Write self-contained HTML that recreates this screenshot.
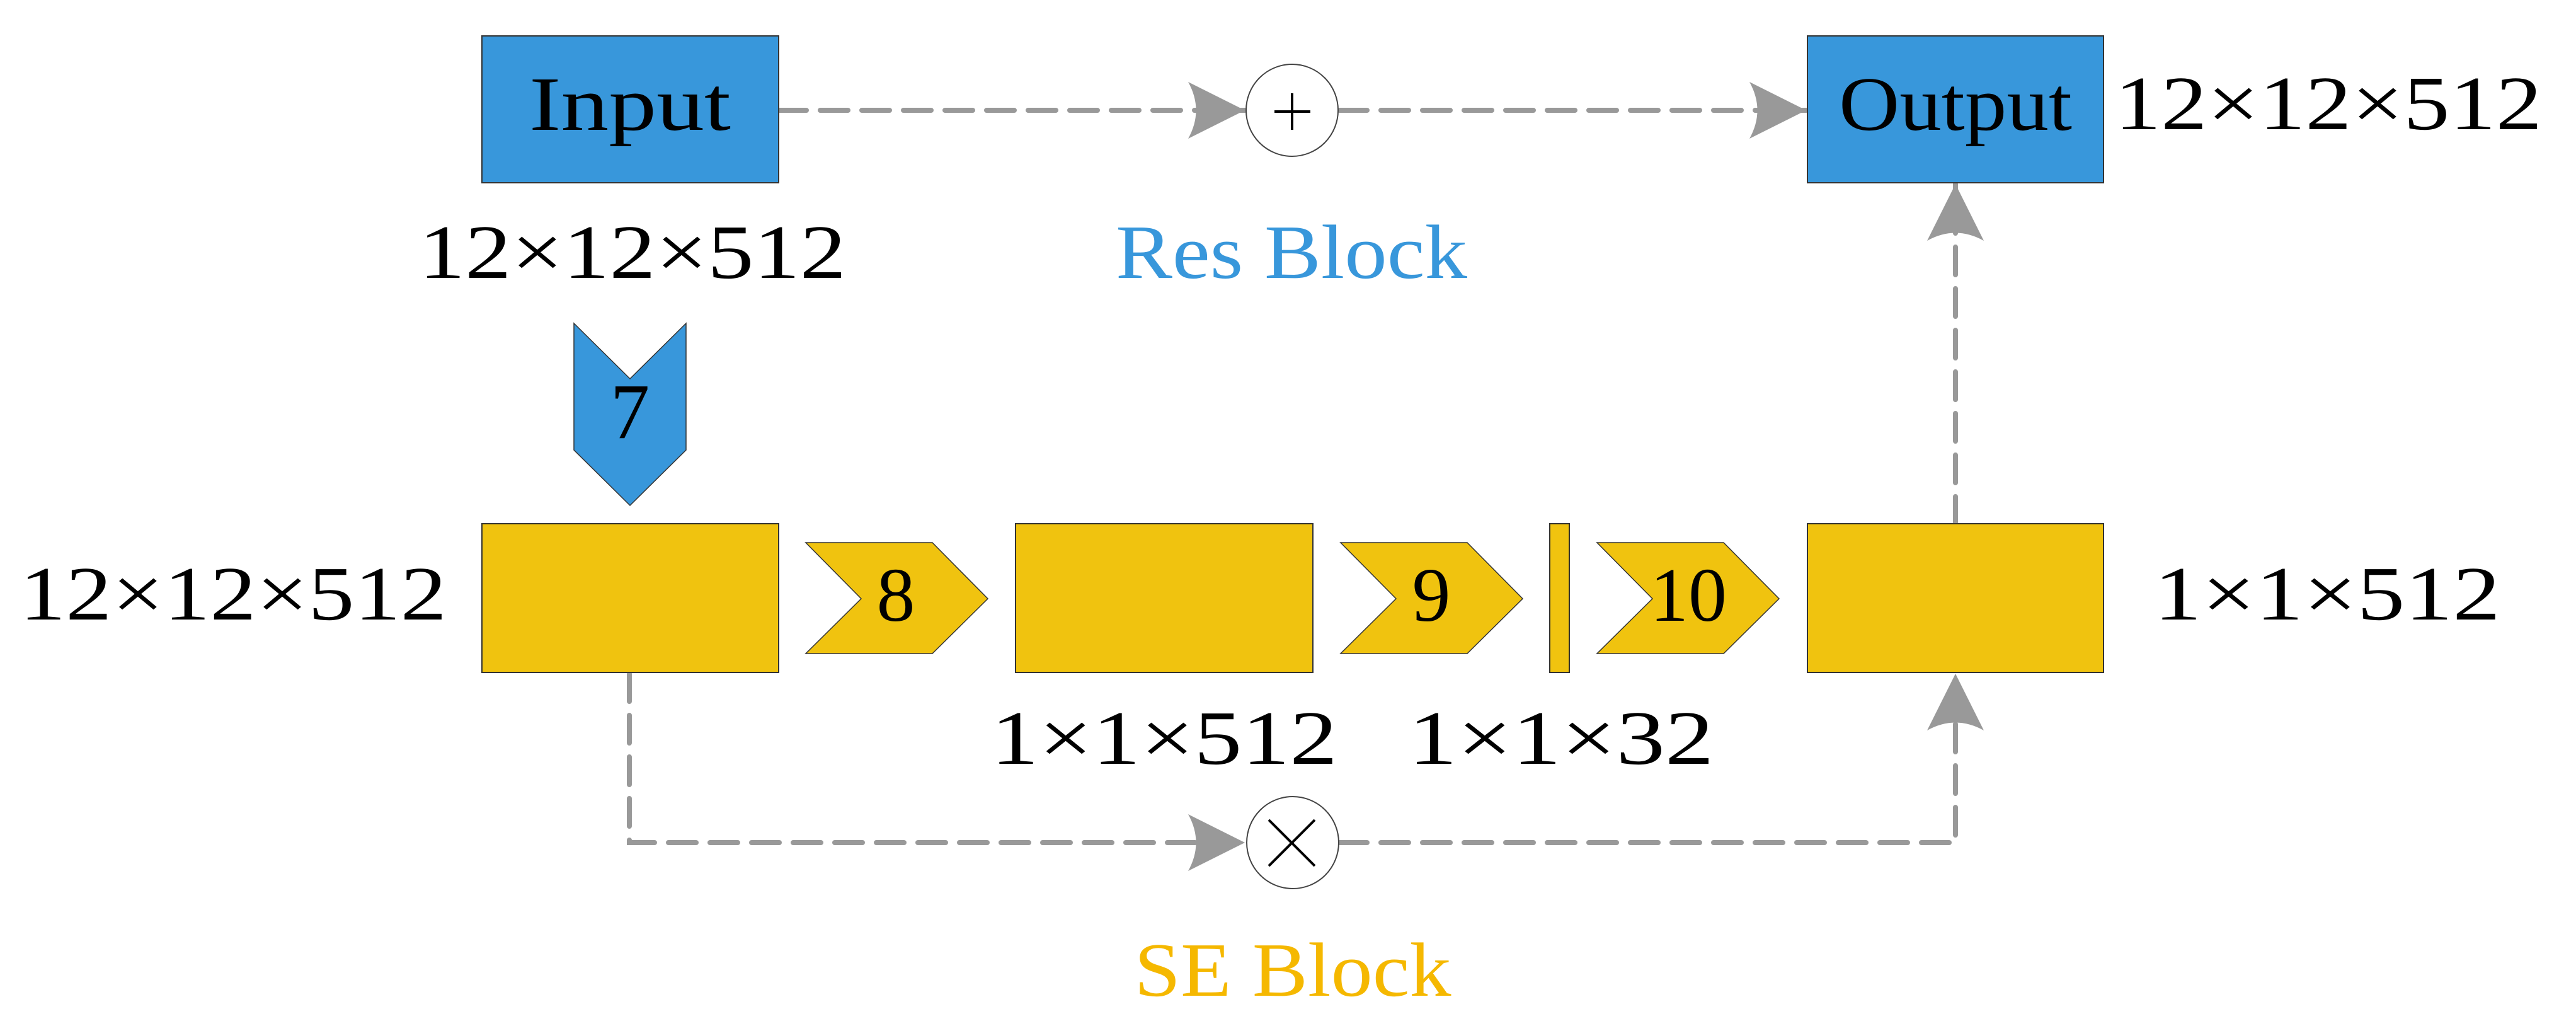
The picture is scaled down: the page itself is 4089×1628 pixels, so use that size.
<!DOCTYPE html>
<html><head><meta charset="utf-8"><style>html,body{margin:0;padding:0;background:#fff}svg{display:block}</style></head>
<body>
<svg width="4089" height="1628" viewBox="0 0 4089 1628" xmlns="http://www.w3.org/2000/svg" font-family="'Liberation Serif', serif">
<defs>
<marker id="ah" viewBox="0 0 90 90" refX="90" refY="45" markerWidth="90" markerHeight="90" markerUnits="userSpaceOnUse" orient="auto">
<path d="M0,0 L90,45 L0,90 Q25,45 0,0 Z" fill="#999"/>
</marker>
</defs>
<g stroke="#999" stroke-width="8" fill="none" stroke-dasharray="44,22" stroke-linecap="round">
<path d="M1236,175 L1976,175" marker-end="url(#ah)"/>
<path d="M2126,175 L2867,175" marker-end="url(#ah)"/>
<path d="M3104,832 L3104,292" marker-end="url(#ah)"/>
<path d="M999,1069 L999,1337 L1976,1337" marker-end="url(#ah)"/>
<path d="M2126,1337 L3104,1337 L3104,1069" marker-end="url(#ah)"/>
</g>
<g stroke="#333" stroke-width="2">
<rect x="765" y="57" width="471" height="233" fill="#3897db"/>
<rect x="2869" y="57" width="470" height="233" fill="#3897db"/>
<rect x="765" y="831" width="471" height="236" fill="#f0c30f"/>
<rect x="1612" y="831" width="472" height="236" fill="#f0c30f"/>
<rect x="2460" y="831" width="31" height="236" fill="#f0c30f"/>
<rect x="2869" y="831" width="470" height="236" fill="#f0c30f"/>
<path d="M911,513 L1000,601 L1089,513 L1089,714 L1000,802 L911,714 Z" fill="#3897db" stroke-width="1.5"/>
<path d="M1279,861 L1480,861 L1568,950 L1480,1037 L1279,1037 L1367,950 Z" fill="#f0c30f" stroke-width="1.5"/>
<path d="M2128,861 L2329,861 L2417,950 L2329,1037 L2128,1037 L2216,950 Z" fill="#f0c30f" stroke-width="1.5"/>
<path d="M2535,861 L2736,861 L2824,950 L2736,1037 L2535,1037 L2623,950 Z" fill="#f0c30f" stroke-width="1.5"/>
</g>
<circle cx="2051" cy="175" r="73" fill="#fff" stroke="#444" stroke-width="2"/>
<circle cx="2052" cy="1337" r="73" fill="#fff" stroke="#444" stroke-width="2"/>
<path d="M2023,177 L2080,177 M2051,148 L2051,206" stroke="#000" stroke-width="4"/>
<path d="M2014,1301 L2087,1374 M2087,1301 L2014,1374" stroke="#000" stroke-width="4"/>
<g font-size="122" fill="#000" text-anchor="middle">
<text x="1000" y="206" textLength="320" lengthAdjust="spacingAndGlyphs">Input</text>
<text x="3104" y="206" textLength="370" lengthAdjust="spacingAndGlyphs">Output</text>
<text x="1004" y="441" textLength="678" lengthAdjust="spacingAndGlyphs">12×12×512</text>
<text x="3696" y="205" textLength="678" lengthAdjust="spacingAndGlyphs">12×12×512</text>
<text x="370" y="983" textLength="678" lengthAdjust="spacingAndGlyphs">12×12×512</text>
<text x="3694" y="983" textLength="550" lengthAdjust="spacingAndGlyphs">1×1×512</text>
<text x="1848" y="1212" textLength="550" lengthAdjust="spacingAndGlyphs">1×1×512</text>
<text x="2478" y="1212" textLength="485" lengthAdjust="spacingAndGlyphs">1×1×32</text>
<text x="1000" y="695" font-size="125">7</text>
<text x="1422" y="985">8</text>
<text x="2272" y="985">9</text>
<text x="2680" y="985">10</text>
<text x="2050" y="441" fill="#3897db" textLength="558" lengthAdjust="spacingAndGlyphs">Res Block</text>
<text x="2052" y="1580" fill="#f5b800" textLength="503" lengthAdjust="spacingAndGlyphs">SE Block</text>
</g>
</svg>
</body></html>
